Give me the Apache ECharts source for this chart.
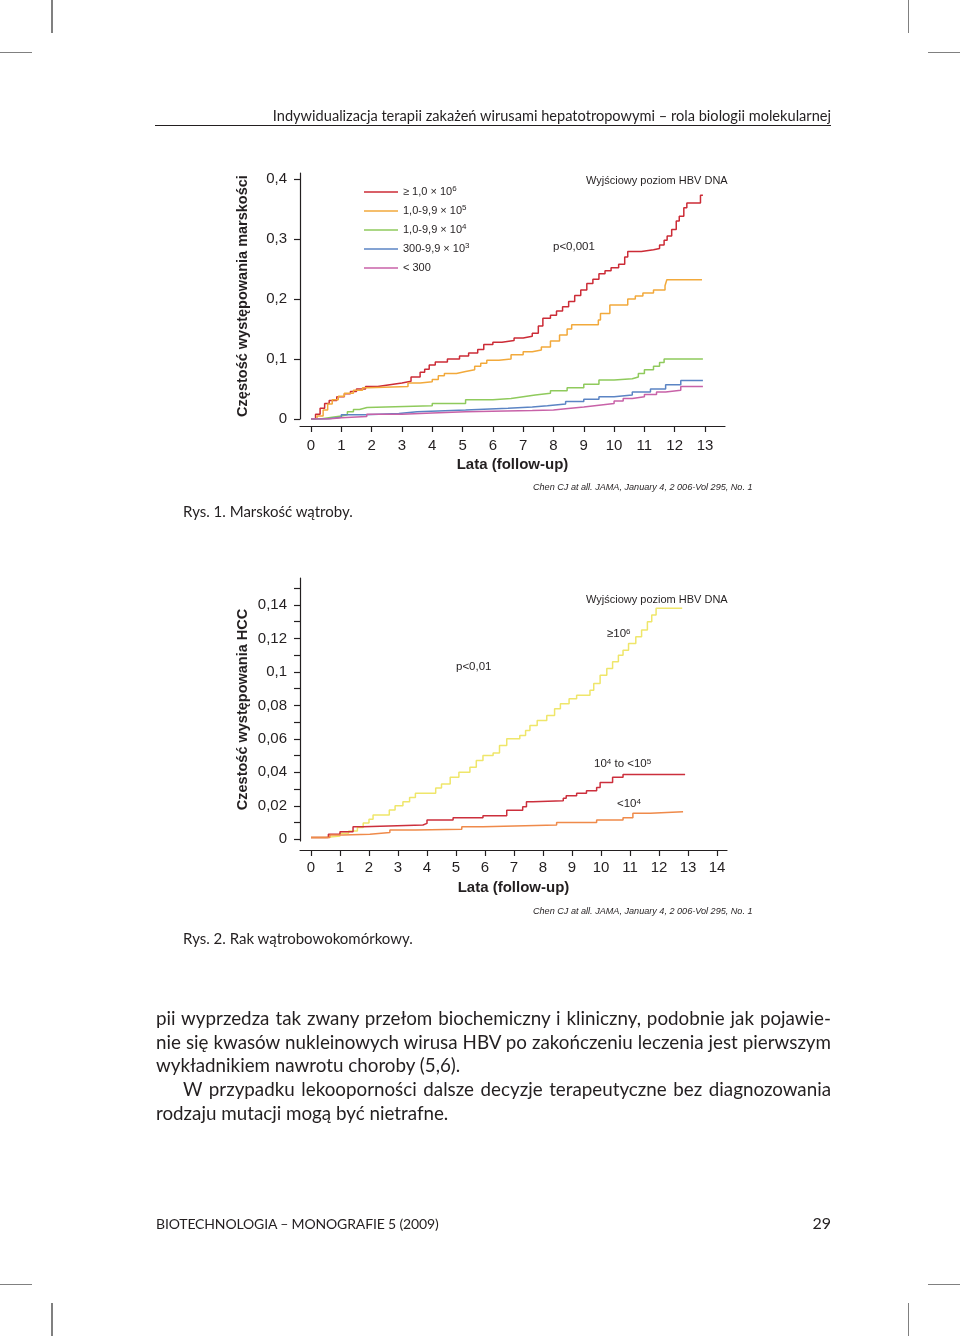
<!DOCTYPE html>
<html><head><meta charset="utf-8">
<script src="https://cdn.jsdelivr.net/npm/echarts/dist/echarts.min.js"></script>
<style>
html,body{margin:0;padding:0;background:#fff;}
#page{position:relative;width:960px;height:1336px;overflow:hidden;background:#fff;}
#chart{position:absolute;left:0;top:0;width:960px;height:1336px;}
.t{position:absolute;white-space:nowrap;color:#231f20;font-family:Lato,"Liberation Sans",sans-serif;}
.mark{position:absolute;background:#808080;}
.jl{position:absolute;left:156px;width:675px;text-align:justify;text-align-last:justify;white-space:nowrap;font-family:Lato,"Liberation Sans",sans-serif;font-size:18.8px;color:#231f20;line-height:24px;}
</style></head>
<body><div id="page">
<div id="chart"></div>
<div class="mark" style="left:51px;top:0;width:1.5px;height:33px"></div>
<div class="mark" style="left:0;top:51.5px;width:32px;height:1.5px"></div>
<div class="mark" style="left:907.5px;top:0;width:1.5px;height:33px"></div>
<div class="mark" style="left:928px;top:51.5px;width:32px;height:1.5px"></div>
<div class="mark" style="left:51px;top:1303px;width:1.5px;height:33px"></div>
<div class="mark" style="left:0;top:1283.5px;width:32px;height:1.5px"></div>
<div class="mark" style="left:907.5px;top:1303px;width:1.5px;height:33px"></div>
<div class="mark" style="left:928px;top:1283.5px;width:32px;height:1.5px"></div>

<div class="t" style="right:129px;top:107px;font-size:14.6px;line-height:18px;">Indywidualizacja terapii zakażeń wirusami hepatotropowymi – rola biologii molekularnej</div>
<div style="position:absolute;left:155px;top:124.5px;width:676px;height:1px;background:#231f20"></div>

<div class="t" style="left:183px;top:501px;font-size:15px;line-height:20px;">Rys. 1. Marskość wątroby.</div>
<div class="t" style="left:183px;top:928px;font-size:15px;line-height:20px;">Rys. 2. Rak wątrobowokomórkowy.</div>

<div class="jl" style="top:1006px">pii wyprzedza tak zwany przełom biochemiczny i kliniczny, podobnie jak pojawie-</div>
<div class="jl" style="top:1030px">nie się kwasów nukleinowych wirusa HBV po zakończeniu leczenia jest pierwszym</div>
<div class="jl" style="top:1053px;text-align:left;text-align-last:left">wykładnikiem nawrotu choroby (5,6).</div>
<div class="jl" style="top:1077px;left:183px;width:648px">W przypadku lekooporności dalsze decyzje terapeutyczne bez diagnozowania</div>
<div class="jl" style="top:1101px;text-align:left;text-align-last:left">rodzaju mutacji mogą być nietrafne.</div>

<div class="t" style="left:156px;top:1214px;font-size:14px;line-height:20px;letter-spacing:-0.15px">BIOTECHNOLOGIA – MONOGRAFIE 5 (2009)</div>
<div class="t" style="right:129px;top:1213px;font-size:16px;line-height:20px;">29</div>
</div>
<script>
// ---------- Data: cirrhosis (Rys. 1) ----------
const cirrhosisLabels = ['≥ 1,0 × 10^6', '1,0-9,9 × 10^5', '1,0-9,9 × 10^4', '300-9,9 × 10^3', '< 300'];
const cirrhosisGe1e6 = [[0,0],[0.15,0.008],[0.3,0.018],[0.45,0.026],[0.6,0.031],[0.85,0.037],[1.1,0.042],[1.3,0.046],[1.5,0.05],[1.8,0.054],[2.2,0.057],[2.6,0.06],[3.0,0.063],[3.3,0.07],[3.6,0.078],[3.75,0.083],[3.9,0.09],[4.1,0.095],[4.5,0.1],[4.9,0.105],[5.2,0.11],[5.5,0.116],[5.7,0.124],[6.0,0.128],[6.3,0.131],[6.7,0.135],[7.0,0.138],[7.3,0.143],[7.5,0.155],[7.65,0.168],[7.9,0.173],[8.1,0.18],[8.3,0.187],[8.5,0.196],[8.7,0.206],[8.9,0.215],[9.1,0.226],[9.3,0.233],[9.5,0.242],[9.7,0.247],[9.9,0.252],[10.15,0.258],[10.35,0.27],[10.45,0.279],[10.9,0.282],[11.3,0.284],[11.5,0.29],[11.65,0.298],[11.75,0.305],[11.9,0.316],[12.05,0.33],[12.15,0.338],[12.3,0.352],[12.4,0.36],[12.85,0.373],[12.93,0.373]];
const cirrhosis1e5 = [[0,0],[0.2,0.005],[0.4,0.015],[0.55,0.025],[0.7,0.032],[0.9,0.038],[1.1,0.043],[1.4,0.048],[1.7,0.052],[1.9,0.054],[3.2,0.06],[3.6,0.062],[4.0,0.066],[4.2,0.072],[4.4,0.076],[4.8,0.079],[5.1,0.082],[5.4,0.088],[5.6,0.093],[5.8,0.098],[6.2,0.1],[6.6,0.107],[7.0,0.112],[7.3,0.115],[7.6,0.12],[7.9,0.13],[8.2,0.14],[8.45,0.15],[8.6,0.157],[9.48,0.165],[9.55,0.176],[9.86,0.19],[10.45,0.2],[10.7,0.205],[10.95,0.21],[11.3,0.215],[11.68,0.222],[11.74,0.232],[12.9,0.232]];
const cirrhosis1e4 = [[0,0],[0.3,0.003],[0.7,0.005],[1.0,0.007],[1.2,0.012],[1.4,0.016],[1.6,0.019],[1.85,0.022],[4.0,0.026],[5.1,0.032],[6.0,0.034],[6.6,0.037],[7.0,0.04],[7.4,0.043],[7.9,0.047],[8.45,0.052],[9.0,0.058],[9.5,0.065],[10.0,0.067],[10.6,0.07],[10.8,0.076],[11.0,0.082],[11.3,0.088],[11.5,0.094],[11.65,0.1],[12.93,0.1]];
const cirrhosis300 = [[0,0],[0.5,0.003],[1.0,0.007],[1.8,0.009],[2.9,0.012],[3.5,0.015],[5.1,0.018],[6.5,0.02],[7.3,0.022],[7.8,0.025],[8.4,0.029],[9.0,0.033],[9.5,0.037],[10.0,0.04],[10.6,0.045],[11.2,0.05],[11.7,0.057],[12.2,0.064],[12.93,0.064]];
const cirrhosisLt300 = [[0,0],[0.6,0.002],[1.0,0.004],[1.84,0.008],[3.0,0.01],[4.0,0.012],[5.1,0.014],[7.3,0.015],[8.0,0.017],[8.4,0.02],[9.0,0.023],[9.5,0.026],[10.0,0.03],[10.3,0.034],[10.6,0.037],[11.0,0.041],[11.4,0.045],[11.7,0.048],[12.2,0.054],[12.93,0.054]];
const cirrhosisXTicks = [0,1,2,3,4,5,6,7,8,9,10,11,12,13];
const cirrhosisYTicks = [0,0.1,0.2,0.3,0.4];

// ---------- Data: HCC (Rys. 2) ----------
const hccGe1e6 = [[0,0.001],[0.5,0.002],[1.0,0.0036],[1.3,0.005],[1.6,0.007],[1.8,0.0097],[2.0,0.012],[2.14,0.0145],[2.7,0.0175],[2.9,0.02],[3.17,0.0225],[3.4,0.025],[3.6,0.0275],[4.3,0.0306],[4.5,0.033],[4.8,0.037],[5.1,0.04],[5.48,0.043],[5.7,0.047],[5.93,0.05],[6.28,0.0516],[6.5,0.056],[6.75,0.06],[7.2,0.062],[7.4,0.065],[7.55,0.068],[7.8,0.071],[8.13,0.074],[8.4,0.078],[8.6,0.081],[8.9,0.084],[9.16,0.086],[9.62,0.089],[9.75,0.093],[9.97,0.098],[10.2,0.102],[10.4,0.106],[10.6,0.11],[10.76,0.113],[10.95,0.117],[11.2,0.121],[11.4,0.125],[11.6,0.13],[11.75,0.134],[11.9,0.138],[12.8,0.138]];
const hcc1e4to1e5 = [[0,0.001],[0.6,0.003],[1.0,0.0045],[1.45,0.0075],[1.8,0.0085],[3.86,0.0095],[4.0,0.0115],[4.9,0.0128],[5.93,0.014],[6.75,0.0174],[7.3,0.0195],[7.43,0.0225],[7.65,0.023],[8.7,0.0245],[8.8,0.026],[9.16,0.0275],[9.5,0.029],[9.85,0.031],[9.97,0.034],[10.4,0.037],[10.76,0.0387],[12.9,0.0387]];
const hccLt1e4 = [[0,0.001],[0.65,0.0025],[1.1,0.003],[2.03,0.004],[2.72,0.0055],[3.6,0.006],[5.2,0.0075],[5.93,0.0085],[8.47,0.01],[9.85,0.0115],[10.76,0.0128],[11.1,0.0155],[11.7,0.0165],[12.83,0.0165]];
const hccXTicks = [0,1,2,3,4,5,6,7,8,9,10,11,12,13,14];
const hccYLabels = [0,0.02,0.04,0.06,0.08,0.1,0.12,0.14];
const hccYTicks = [0,0.01,0.02,0.03,0.04,0.05,0.06,0.07,0.08,0.09,0.1,0.11,0.12,0.13,0.14,0.15];

// ---------- Chart ----------
const chart = echarts.init(document.getElementById('chart'), null, {renderer:'canvas'});
const FONT = '"Liberation Sans", Arial, sans-serif';
const INK = '#231f20';
const fmt = v => String(+v.toFixed(2)).replace('.', ',');
const sup = {sup:{fontSize:8, lineHeight:8, verticalAlign:'top', fontFamily:FONT, color:INK}};
const toRich = s => s.replace(/\^(\d)/g, '{sup|$1}');

function xAxisCfg(grid, min, max, ticks) {
  return {
    type:'value', gridIndex:grid, min, max, offset: grid===0 ? 7 : 9,
    axisLine:{onZero:false, lineStyle:{color:INK, width:1.2}},
    axisTick:{customValues:ticks, length:6, lineStyle:{color:INK, width:1.2}},
    axisLabel:{customValues:ticks, color:INK, fontSize:15, fontFamily:FONT, margin: grid===0 ? 12 : 10},
    splitLine:{show:false},
    name:'Lata (follow-up)', nameLocation:'middle', nameGap: grid===0 ? 31 : 30,
    nameTextStyle:{color:INK, fontSize:15, fontWeight:'bold', fontFamily:FONT}
  };
}
function yAxisCfg(grid, min, max, ticks, labels, name) {
  return {
    type:'value', gridIndex:grid, min, max,
    axisLine:{onZero:false, lineStyle:{color:INK, width:1.2}},
    axisTick:{customValues:ticks, length:6, lineStyle:{color:INK, width:1.2}},
    axisLabel:{customValues:labels, formatter:fmt, color:INK, fontSize:15, fontFamily:FONT, margin:13},
    splitLine:{show:false},
    name, nameLocation:'middle', nameRotate:90, nameGap:50,
    nameTextStyle:{color:INK, fontSize:14.5, fontWeight:'bold', fontFamily:FONT}
  };
}
function km(name, data, color, xi) {
  return {type:'line', name, data, step:'end', showSymbol:false, symbol:'none',
    xAxisIndex:xi, yAxisIndex:xi, lineStyle:{color, width:1.5}, itemStyle:{color},
    silent:true, animation:false};
}
function txt(x, y, text, size, italic) {
  return {type:'text', x, y, silent:true,
    style:{text, fill:INK, font: (italic ? 'italic ' : '') + size + 'px ' + FONT, verticalAlign:'middle', rich:sup}};
}
const citation = 'Chen CJ at all. JAMA, January 4, 2 006-Vol 295, No. 1';

const option = {
  animation:false,
  grid:[
    {left:300, top:173, width:425, height:246},
    {left:300, top:578, width:427, height:263}
  ],
  xAxis:[
    xAxisCfg(0, -0.363, 13.659, cirrhosisXTicks),
    xAxisCfg(1, -0.379, 14.345, hccXTicks)
  ],
  yAxis:[
    yAxisCfg(0, 0, 0.41, cirrhosisYTicks, cirrhosisYTicks, 'Częstość występowania marskości'),
    yAxisCfg(1, -0.00102, 0.1561, hccYTicks, hccYLabels, 'Czestość występowania HCC')
  ],
  legend:{
    data:cirrhosisLabels, orient:'vertical', left:364, top:185, padding:0,
    icon:'rect', itemWidth:34, itemHeight:1.6, itemGap:5, selectedMode:false,
    formatter: n => toRich(n),
    textStyle:{color:INK, fontSize:11, fontFamily:FONT, lineHeight:14, rich:sup}
  },
  series:[
    km(cirrhosisLabels[0], cirrhosisGe1e6, '#cc2b36', 0),
    km(cirrhosisLabels[1], cirrhosis1e5, '#f2a93b', 0),
    km(cirrhosisLabels[2], cirrhosis1e4, '#8fca5c', 0),
    km(cirrhosisLabels[3], cirrhosis300, '#5b84c4', 0),
    km(cirrhosisLabels[4], cirrhosisLt300, '#c862a8', 0),
    km('≥10^6', hccGe1e6, '#efe66a', 1),
    km('10^4 to <10^5', hcc1e4to1e5, '#cc2f3c', 1),
    km('<10^4', hccLt1e4, '#ef8a4a', 1)
  ],
  graphic:[
    txt(586, 181, 'Wyjściowy poziom HBV DNA', 11),
    txt(553, 247, 'p<0,001', 11.5),
    txt(533, 487, citation, 9.1, true),
    txt(586, 600, 'Wyjściowy poziom HBV DNA', 11),
    txt(607, 634, toRich('≥10^6'), 11.5),
    txt(456, 667, 'p<0,01', 11.5),
    txt(594, 764, toRich('10^4 to <10^5'), 11.5),
    txt(617, 804, toRich('<10^4'), 11.5),
    txt(533, 911, citation, 9.1, true)
  ]
};
chart.setOption(option);
</script>
</body></html>
